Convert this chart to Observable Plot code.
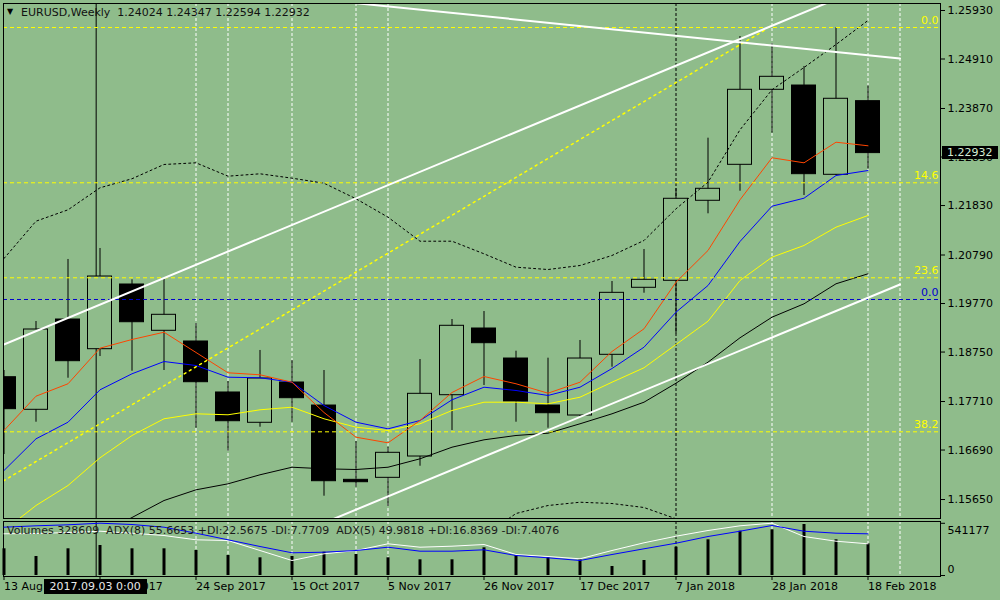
<!DOCTYPE html>
<html><head><meta charset="utf-8">
<script src="https://cdn.jsdelivr.net/npm/d3@7"></script>
<script src="https://cdn.jsdelivr.net/npm/@observablehq/plot@0.6"></script>
<style>
html,body{margin:0;padding:0;background:#8fbc8b;}
#chart{position:relative;width:1000px;height:600px;background:#8fbc8b;overflow:hidden;font-family:"DejaVu Sans",sans-serif;font-size:11px;}
#chart svg{position:absolute;left:0;}
.lbl{position:absolute;white-space:pre;font-family:"DejaVu Sans",sans-serif;font-size:11px;line-height:13px;color:#111;}
</style></head>
<body><div id="chart"></div>
<script>
// ---------- data ----------
const weeks = ["2017-08-13","2017-08-20","2017-08-27","2017-09-03","2017-09-10","2017-09-17","2017-09-24","2017-10-01","2017-10-08","2017-10-15","2017-10-22","2017-10-29","2017-11-05","2017-11-12","2017-11-19","2017-11-26","2017-12-03","2017-12-10","2017-12-17","2017-12-24","2017-12-31","2018-01-07","2018-01-14","2018-01-21","2018-01-28","2018-02-04","2018-02-11","2018-02-18"];
const openP  = [1.18221,1.17536,1.19434,1.18810,1.20170,1.19197,1.18972,1.17900,1.17263,1.18110,1.17626,1.16064,1.16106,1.16554,1.17843,1.19245,1.18614,1.17626,1.17416,1.18692,1.20101,1.20248,1.21930,1.22686,1.24263,1.24353,1.22476,1.24024];
const highP  = [1.18362,1.19392,1.20696,1.20927,1.20269,1.20290,1.19350,1.18131,1.18783,1.18572,1.18362,1.16870,1.16750,1.18593,1.19434,1.19602,1.18768,1.18621,1.18993,1.20233,1.20906,1.22182,1.23246,1.25383,1.25230,1.24753,1.25566,1.24347];
const lowP   = [1.16596,1.17275,1.18200,1.18656,1.18347,1.18362,1.17149,1.16666,1.17170,1.17275,1.15720,1.15909,1.15503,1.16350,1.17101,1.18047,1.17275,1.17149,1.17395,1.18431,1.19987,1.19134,1.21656,1.22131,1.23351,1.22041,1.22461,1.22594];
const closeP = [1.17549,1.19224,1.18558,1.20338,1.19377,1.19533,1.18116,1.17296,1.18194,1.17780,1.16035,1.16014,1.16632,1.17872,1.19302,1.18936,1.17710,1.17464,1.18614,1.19995,1.20269,1.21972,1.22182,1.24263,1.24536,1.22489,1.24074,1.22932];

const maRed    = [1.17101,1.17822,1.18083,1.18831,1.19014,1.19167,1.18741,1.18314,1.18272,1.18116,1.17479,1.16960,1.16842,1.17311,1.17900,1.18236,1.18083,1.17885,1.18116,1.18762,1.19239,1.20218,1.20885,1.21951,1.22834,1.22728,1.23161,1.23086];
const maBlue   = [1.16260,1.16926,1.17275,1.17956,1.18293,1.18551,1.18467,1.18221,1.18209,1.18116,1.17626,1.17275,1.17136,1.17311,1.17746,1.18011,1.17942,1.17837,1.18011,1.18404,1.18852,1.19588,1.20149,1.21074,1.21816,1.21984,1.22461,1.22566];
const maYellow = [1.14999,1.15524,1.15945,1.16527,1.16996,1.17347,1.17452,1.17431,1.17536,1.17591,1.17347,1.17170,1.17101,1.17242,1.17521,1.17696,1.17696,1.17662,1.17801,1.18116,1.18419,1.18909,1.19398,1.20254,1.20744,1.20990,1.21375,1.21621];
const maBlack  = [1.13948,1.14263,1.14578,1.14914,1.15272,1.15629,1.15854,1.15980,1.16170,1.16329,1.16296,1.16281,1.16329,1.16506,1.16750,1.16905,1.16996,1.17044,1.17242,1.17452,1.17696,1.18095,1.18537,1.19050,1.19483,1.19764,1.20185,1.20395];
const bandUpper = [1.20717,1.21501,1.21740,1.22203,1.22393,1.22693,1.22728,1.22447,1.22497,1.22405,1.22300,1.21972,1.21585,1.21080,1.21080,1.20815,1.20534,1.20485,1.20569,1.20780,1.21095,1.21761,1.22321,1.23422,1.24263,1.24732,1.25215,1.25720];
const bandLower = [null,null,null,null,null,null,null,null,null,null,null,null,null,null,null,1.14893,1.15356,1.15524,1.15593,1.15566,1.15482,1.15245,1.14893,null,null,null,null,null];

const volumes = [276800,197000,276800,311000,276800,276800,259200,207300,183500,197000,241500,217700,183500,162700,162700,287100,207300,183500,162700,93300,155500,293400,370100,459200,473700,528700,370100,328609];
const adx8 = [59.42,60.21,60.78,61.69,60.95,59.42,56.01,52.26,48.45,44.87,45.21,46.17,48.05,45.78,45.78,46.57,43.33,42.03,40.49,43.90,47.14,50.32,54.13,57.14,60.38,57.14,56.01,55.6653];
const adx5 = [55.67,55.84,56.40,57.14,56.01,54.70,52.26,51.86,46.17,40.49,44.30,46.17,49.98,48.05,48.62,49.58,43.90,42.76,41.46,46.17,50.55,54.30,57.54,60.21,61.69,54.13,51.46,49.9818];

const priceTicks = [1.25930,1.24910,1.23870,1.22850,1.21830,1.20790,1.19770,1.18750,1.17710,1.16690,1.15650];
const volumeTicks = [541177, 0];
const dateTickIdx = [0,3,6,9,12,15,18,21,24,27];
const dateTickLabels = ["13 Aug 2017","3 Sep 2017","24 Sep 2017","15 Oct 2017","5 Nov 2017","26 Nov 2017","17 Dec 2017","7 Jan 2018","28 Jan 2018","18 Feb 2018"];

const fiboYellowLevels = [1.25572,1.22308,1.20311,1.17073];
const fiboYellowLabels = ["0.0","14.6","23.6","38.2"];
const fiboBlueLevels = [1.19855];
const fiboBlueLabels = ["0.0"];

// vertical line objects (week index; 28 = 25 Feb 2018)
const whiteVLines = [6,7,9,11,12,24,27,28];
const blackVLines = [21];
const crosshairIdx = 2.88;
const crosshairLabel = "2017.09.03 0:00";

// trend lines: [week index, price]
const upperChannel = [[-1,1.18630],[26,1.26168]];
const lowerChannel = [[9,1.14880],[28,1.20170]];
const fallingLine  = [[10,1.26152],[28,1.24921]];
const fiboTrend    = [[-0.5,1.15850],[23.86,1.25552]];

const headerText = "EURUSD,Weekly  1.24024 1.24347 1.22594 1.22932";
const lastPrice = 1.22932;
const indicatorText = "Volumes 328609  ADX(8) 55.6653 +DI:22.5675 -DI:7.7709  ADX(5) 49.9818 +DI:16.8369 -DI:7.4076";

// ---------- build ----------
const BG = "#8fbc8b";
const candles = weeks.map((w,i)=>({i, o:openP[i], h:highP[i], l:lowP[i], c:closeP[i]}));
const trends = [upperChannel, lowerChannel, fallingLine].flatMap((pts,k)=>pts.map(p=>({id:k, i:p[0], v:p[1]})));
const fiboTrendPts = fiboTrend.map(p=>({i:p[0], v:p[1]}));
const fiboY = fiboYellowLevels.map((v,k)=>({v, label:fiboYellowLabels[k]}));
const fiboB = fiboBlueLevels.map((v,k)=>({v, label:fiboBlueLabels[k]}));

const xDomain = [-0.5/32, 936.5/32];
const common = {
  width:1000, marginLeft:3, marginRight:60,
  x:{domain:xDomain, axis:null},
  style:{background:"transparent", fontFamily:"DejaVu Sans, sans-serif", fontSize:"11px", color:"#000"}
};
const idxLine = (arr, color, extra={}) => Plot.line(arr, {x:(d,i)=>i, y:d=>d, stroke:color, strokeWidth:1, clip:true, ...extra});

const main = Plot.plot({
  ...common, height:520, marginTop:3, marginBottom:2,
  y:{domain:[1.15251,1.26077], axis:null},
  marks:[
    Plot.ruleX(whiteVLines, {stroke:"white", strokeDasharray:"3,2"}),
    Plot.ruleX(blackVLines, {stroke:"black", strokeDasharray:"3,2"}),
    Plot.ruleX([crosshairIdx], {stroke:"black"}),
    Plot.ruleX(candles, {x:"i", y1:"l", y2:"h", stroke:"black", clip:true}),
    Plot.rect(candles.filter(d=>d.c>=d.o), {x1:d=>d.i-0.375, x2:d=>d.i+0.375, y1:"o", y2:"c", fill:BG, stroke:"black", clip:true}),
    Plot.rect(candles.filter(d=>d.c<d.o), {x1:d=>d.i-0.375, x2:d=>d.i+0.375, y1:"o", y2:"c", fill:"black", stroke:"black", clip:true}),
    idxLine(maBlack, "black"),
    idxLine(maYellow, "#ffff00"),
    idxLine(maBlue, "#0000ff"),
    idxLine(maRed, "#ff4500"),
    idxLine(bandUpper, "black", {strokeDasharray:"2,3"}),
    idxLine(bandLower, "black", {strokeDasharray:"2,3"}),
    Plot.ruleY(fiboY, {y:"v", stroke:"#ffff00", strokeDasharray:"4,3"}),
    Plot.ruleY(fiboB, {y:"v", stroke:"#0000cd", strokeDasharray:"4,3"}),
    Plot.text(fiboY, {y:"v", text:"label", frameAnchor:"right", textAnchor:"end", dx:-2, dy:-7, fill:"#ffff00"}),
    Plot.text(fiboB, {y:"v", text:"label", frameAnchor:"right", textAnchor:"end", dx:-2, dy:-7, fill:"#0000cd"}),
    Plot.line(fiboTrendPts, {x:"i", y:"v", stroke:"#ffff00", strokeDasharray:"2,4", clip:true}),
    Plot.line(trends, {x:"i", y:"v", z:"id", stroke:"white", strokeWidth:2, clip:true}),
    Plot.frame({stroke:"black"}),
    Plot.axisY(priceTicks, {anchor:"right", tickSize:4, tickPadding:3, tickFormat:d=>d.toFixed(5), label:null})
  ]
});
main.style.top = "0px";

const lowerGeom = {...common, height:82, marginTop:3, marginBottom:24};
const lower = Plot.plot({
  ...lowerGeom,
  y:{domain:[-10366, 559764], axis:null},
  marks:[
    Plot.ruleX(whiteVLines, {stroke:"white", strokeDasharray:"3,2"}),
    Plot.ruleX(blackVLines, {stroke:"black", strokeDasharray:"3,2"}),
    Plot.ruleX([crosshairIdx], {stroke:"black"}),
    Plot.ruleX(volumes, {x:(d,i)=>i, y1:0, y2:d=>d, stroke:"black", strokeWidth:3}),
    Plot.frame({stroke:"black"}),
    Plot.axisY(volumeTicks, {anchor:"right", tickSize:4, tickFormat:()=>"", label:null}),
    Plot.text([volumeTicks[0]], {y:d=>d, text:d=>String(d), frameAnchor:"right", textAnchor:"start", dx:7, dy:7}),
    Plot.text([volumeTicks[1]], {y:d=>d, text:d=>String(d), frameAnchor:"right", textAnchor:"start", dx:7, dy:-6}),
    Plot.axisX(dateTickIdx, {anchor:"bottom", tickSize:4, tickPadding:2, textAnchor:"start", tickFormat:d=>dateTickLabels[dateTickIdx.indexOf(d)], label:null})
  ]
});
lower.style.top = "518px";

const adxPlot = Plot.plot({
  ...lowerGeom,
  y:{domain:[31.40, 62.66], axis:null},
  marks:[
    idxLine(adx5, "white"),
    idxLine(adx8, "#0000ff")
  ]
});
adxPlot.style.top = "518px";

const chart = document.getElementById("chart");
chart.append(main, lower, adxPlot);

function addLabel(text, css){
  const d = document.createElement("div");
  d.className = "lbl";
  d.textContent = text;
  Object.assign(d.style, css);
  chart.append(d);
  return d;
}
addLabel("▼", {left:"7px", top:"7px", fontSize:"8px", lineHeight:"10px", color:"#000"});
addLabel(headerText, {left:"21px", top:"6px", color:"#111"});
addLabel(indicatorText, {left:"7px", top:"524px", color:"#1a1a1a"});

const yPx = main.scale("y").apply(lastPrice);
addLabel(lastPrice.toFixed(5), {left:"942px", top:(yPx-6.5)+"px", width:"51px", height:"13px", background:"#000", color:"#d4ecd4", paddingLeft:"5px"});

const xPx = lower.scale("x").apply(crosshairIdx);
addLabel(crosshairLabel, {left:(xPx-52)+"px", top:"579px", width:"103px", height:"15px", lineHeight:"15px", background:"#000", color:"#e8e8e8", textAlign:"center"});
</script>
</body></html>
